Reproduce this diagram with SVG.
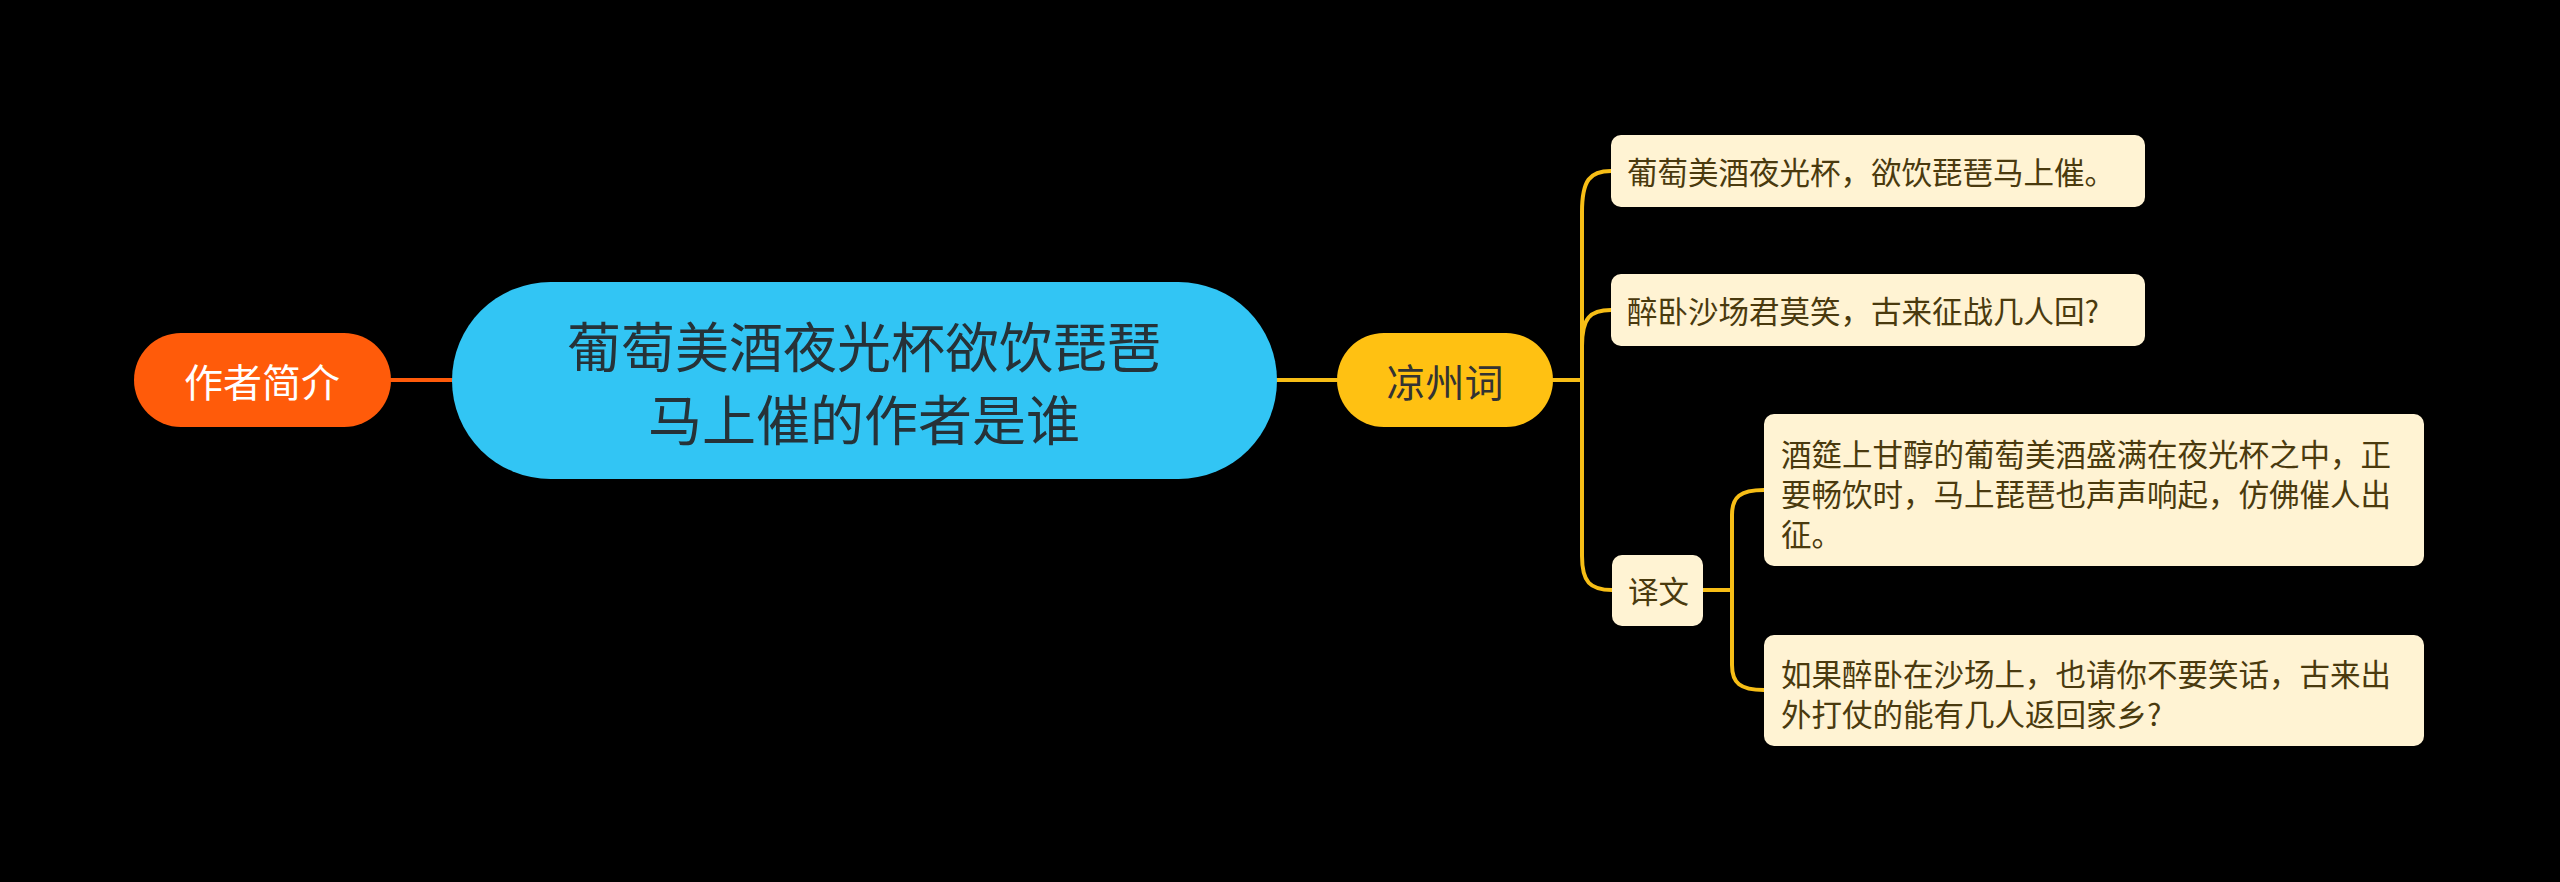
<svg xmlns="http://www.w3.org/2000/svg" width="2560" height="882" viewBox="0 0 2560 882">
<style>
text{font-family:"Noto Sans CJK SC","Noto Sans",sans-serif;dominant-baseline:central}
.conn{fill:none;stroke-width:4;stroke-linecap:round}
.y{stroke:#F7BE16}
.o{stroke:#FF5B0A}
.leaf{fill:#FFF3D3}
.lt{font-size:30.5px;fill:#4A3A0E}
</style>
<rect width="2560" height="882" fill="#000"/>
<g id="connectors">
<path class="conn o" d="M391 380 L452 380"/>
<path class="conn y" d="M1277 380 L1337 380"/>
<path class="conn y" d="M1553 380 L1582 380"/>
<path class="conn y" d="M1582 380 L1582 212 C1582 180 1590 171 1611 171"/>
<path class="conn y" d="M1582 380 L1582 346 C1582 318 1590 310 1611 310"/>
<path class="conn y" d="M1582 380 L1582 556 C1582 582 1590 590 1612 590"/>
<path class="conn y" d="M1703 590 L1732 590"/>
<path class="conn y" d="M1732 590 L1732 515 C1732 497 1740 490 1764 490"/>
<path class="conn y" d="M1732 590 L1732 665 C1732 683 1740 690 1764 690"/>
</g>
<g id="root">
<rect x="452" y="282" width="825" height="197" rx="98.5" fill="#32C5F4"/>
<text x="864" y="344" font-size="54" fill="#263238" text-anchor="middle">葡萄美酒夜光杯欲饮琵琶</text>
<text x="864" y="417" font-size="54" fill="#263238" text-anchor="middle">马上催的作者是谁</text>
</g>
<g id="author">
<rect x="134" y="333" width="257" height="94" rx="47" fill="#FF5B0A"/>
<text x="262" y="380" font-size="39" fill="#FFFFFF" text-anchor="middle">作者简介</text>
</g>
<g id="poem">
<rect x="1337" y="333" width="216" height="94" rx="47" fill="#FFC112"/>
<text x="1445" y="380" font-size="39" fill="#333333" text-anchor="middle">凉州词</text>
</g>
<g id="line1">
<rect class="leaf" x="1611" y="135" width="534" height="72" rx="10"/>
<text class="lt" x="1627" y="171">葡萄美酒夜光杯，欲饮琵琶马上催。</text>
</g>
<g id="line2">
<rect class="leaf" x="1611" y="274" width="534" height="72" rx="10"/>
<text class="lt" x="1627" y="310">醉卧沙场君莫笑，古来征战几人回?</text>
</g>
<g id="translation">
<rect class="leaf" x="1612" y="555" width="91" height="71" rx="10"/>
<text class="lt" x="1628" y="590">译文</text>
</g>
<g id="trans1">
<rect class="leaf" x="1764" y="414" width="660" height="152" rx="10"/>
<text class="lt" x="1781" y="453">酒筵上甘醇的葡萄美酒盛满在夜光杯之中，正</text>
<text class="lt" x="1781" y="493">要畅饮时，马上琵琶也声声响起，仿佛催人出</text>
<text class="lt" x="1781" y="533">征。</text>
</g>
<g id="trans2">
<rect class="leaf" x="1764" y="635" width="660" height="111" rx="10"/>
<text class="lt" x="1781" y="673">如果醉卧在沙场上，也请你不要笑话，古来出</text>
<text class="lt" x="1781" y="713">外打仗的能有几人返回家乡?</text>
</g>
</svg>
